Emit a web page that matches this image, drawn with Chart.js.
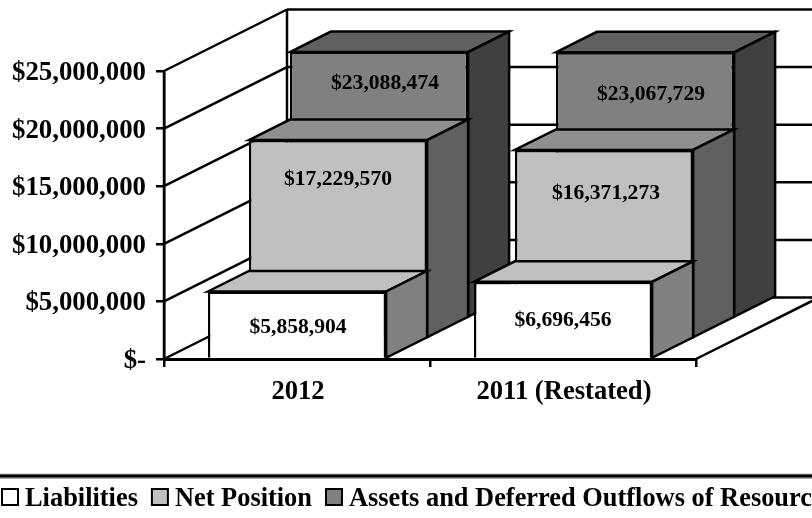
<!DOCTYPE html>
<html>
<head>
<meta charset="utf-8">
<title>Liabilities, Net Position and Assets</title>
<script src="https://cdn.jsdelivr.net/npm/chart.js@4"></script>
<style>
html, body { margin: 0; padding: 0; background: #fff; overflow: hidden; }
canvas { display: block; }
</style>
</head>
<body>
<canvas id="chart1" width="812" height="518"></canvas>
<script>
var categories = ["2012", "2011 (Restated)"];
var liabilities = [5858904, 6696456];
var netPosition = [17229570, 16371273];
var assetsDeferred = [23088474, 23067729];

var seriesNames = ["Liabilities", "Net Position", "Assets and Deferred Outflows of Resources"];
var FONT = '"Liberation Serif", "Times New Roman", serif';

// one depth step of the fake 3D, in pixels
var DX = 41, DY = -20.5;
var LINE = 2.5;

// colours per series: front, top, side
var frontColors = ["#ffffff", "#c0c0c0", "#808080"];
var topColors = ["#c0c0c0", "#8f8f8f", "#606060"];
var sideColors = ["#808080", "#606060", "#404040"];

// value labels were placed by hand in the original, so keep their nudge per series/bar
var labelDrop = [[36, 39], [39, 44], [31, 42]];
var labelNudge = [[1, 0], [0, 2], [6, 6]];

function poly(ctx, pts, fill) {
    ctx.beginPath();
    ctx.moveTo(pts[0][0], pts[0][1]);
    for (var i = 1; i < pts.length; i++) ctx.lineTo(pts[i][0], pts[i][1]);
    ctx.closePath();
    if (fill) { ctx.fillStyle = fill; ctx.fill(); }
    ctx.stroke();
}

function line(ctx, x1, y1, x2, y2) {
    ctx.beginPath();
    ctx.moveTo(x1, y1);
    ctx.lineTo(x2, y2);
    ctx.stroke();
}

var fake3d = {
    id: "fake3d",
    // tick text sits a little lower than the canvas "middle" baseline puts it
    beforeDraw: function(chart) {
        chart.scales.y.getLabelItems().forEach(function(item) {
            item.options.translation[1] += 2;
        });
        chart.scales.x.getLabelItems().forEach(function(item) {
            item.options.translation[0] += 1;
        });
    },
    // walls, floor and gridlines behind the bars
    beforeDatasetsDraw: function(chart) {
        var ctx = chart.ctx, a = chart.chartArea, y = chart.scales.y;
        var wx = DX * 3, wy = DY * 3;
        ctx.save();
        ctx.strokeStyle = "#000";
        ctx.lineWidth = LINE;
        ctx.lineJoin = "miter";
        y.ticks.forEach(function(t, i) {
            var py = y.getPixelForTick(i);
            line(ctx, a.left, py, a.left + wx, py + wy);
            line(ctx, a.left + wx, py + wy, a.right + wx, py + wy);
        });
        line(ctx, a.left + wx, a.top + wy, a.left + wx, a.bottom + wy);
        line(ctx, a.left, a.top, a.left, a.bottom);
        line(ctx, a.right, a.bottom, a.right + wx, a.bottom + wy);
        ctx.restore();
    },
    // each series sits one depth step further back
    beforeDatasetDraw: function(chart, args) {
        var ctx = chart.ctx, i = args.index;
        ctx.save();
        ctx.translate(DX * i, DY * i);
        ctx.strokeStyle = "#000";
        ctx.lineWidth = LINE;
        ctx.lineJoin = "miter";
        args.meta.data.forEach(function(bar) {
            var l = bar.x - bar.width / 2, r = bar.x + bar.width / 2, t = bar.y, b = bar.base;
            poly(ctx, [[l, t], [l + DX, t + DY], [r + DX, t + DY], [r, t]], topColors[i]);
            poly(ctx, [[r, t], [r + DX, t + DY], [r + DX, b + DY], [r, b]], sideColors[i]);
        });
    },
    afterDatasetDraw: function(chart, args) {
        var ctx = chart.ctx, i = args.index;
        var values = chart.data.datasets[i].data;
        ctx.font = "bold 21.6px " + FONT;
        ctx.fillStyle = "#000";
        ctx.textAlign = "center";
        ctx.textBaseline = "middle";
        args.meta.data.forEach(function(bar, j) {
            var txt = "$" + values[j].toLocaleString("en-US");
            ctx.fillText(txt, bar.x + labelNudge[i][j], bar.y + labelDrop[i][j]);
        });
        ctx.restore();
    },
    // legend strip along the bottom, runs off the right edge like the original
    afterDraw: function(chart) {
        var ctx = chart.ctx;
        ctx.save();
        ctx.fillStyle = "#b0b0b0";
        ctx.fillRect(0, 473.5, 812, 5.5);
        ctx.fillStyle = "#000";
        ctx.fillRect(0, 474.5, 812, 3);
        ctx.font = "bold 26.4px " + FONT;
        ctx.textBaseline = "alphabetic";
        ctx.textAlign = "left";
        ctx.strokeStyle = "#000";
        ctx.lineWidth = 2;
        var x = 2;
        chart.data.datasets.forEach(function(ds, i) {
            ctx.fillStyle = frontColors[i];
            ctx.fillRect(x, 489, 16, 16);
            ctx.strokeRect(x, 489, 16, 16);
            ctx.fillStyle = "#000";
            ctx.fillText(ds.label, x + 23, 506);
            x += 23 + ctx.measureText(ds.label).width + 14;
        });
        ctx.restore();
    }
};

var ctx1 = document.getElementById("chart1").getContext("2d");
var chart1 = new Chart(ctx1, {
    type: "bar",
    data: {
        labels: categories,
        datasets: [
            { label: seriesNames[0], data: liabilities, backgroundColor: frontColors[0] },
            { label: seriesNames[1], data: netPosition, backgroundColor: frontColors[1] },
            { label: seriesNames[2], data: assetsDeferred, backgroundColor: frontColors[2] }
        ]
    },
    options: {
        responsive: false,
        animation: false,
        layout: { padding: { top: 71, right: 116 } },
        datasets: {
            bar: {
                grouped: false,
                clip: false,
                categoryPercentage: 1,
                barPercentage: 0.67,
                borderColor: "#000",
                borderWidth: LINE,
                inflateAmount: 0
            }
        },
        plugins: {
            legend: { display: false },
            tooltip: { enabled: false }
        },
        scales: {
            x: {
                afterFit: function(s) { s.height = 159; },
                grid: { drawOnChartArea: false, color: "#000", lineWidth: LINE, tickLength: 8 },
                border: { color: "#000", width: 3 },
                ticks: {
                    color: "#000",
                    padding: 9,
                    maxRotation: 0,
                    font: { family: FONT, size: 26.6, weight: "bold" }
                }
            },
            y: {
                min: 0,
                max: 25000000,
                afterFit: function(s) { s.width = 164; },
                grid: { drawOnChartArea: false, color: "#000", lineWidth: LINE, tickLength: 8 },
                border: { color: "#000", width: LINE },
                ticks: {
                    stepSize: 5000000,
                    color: "#000",
                    padding: 10,
                    font: { family: FONT, size: 26.8, weight: "bold" },
                    callback: function(v) {
                        return v === 0 ? "$-" : "$" + v.toLocaleString("en-US");
                    }
                }
            }
        }
    },
    plugins: [fake3d]
});
</script>
</body>
</html>
